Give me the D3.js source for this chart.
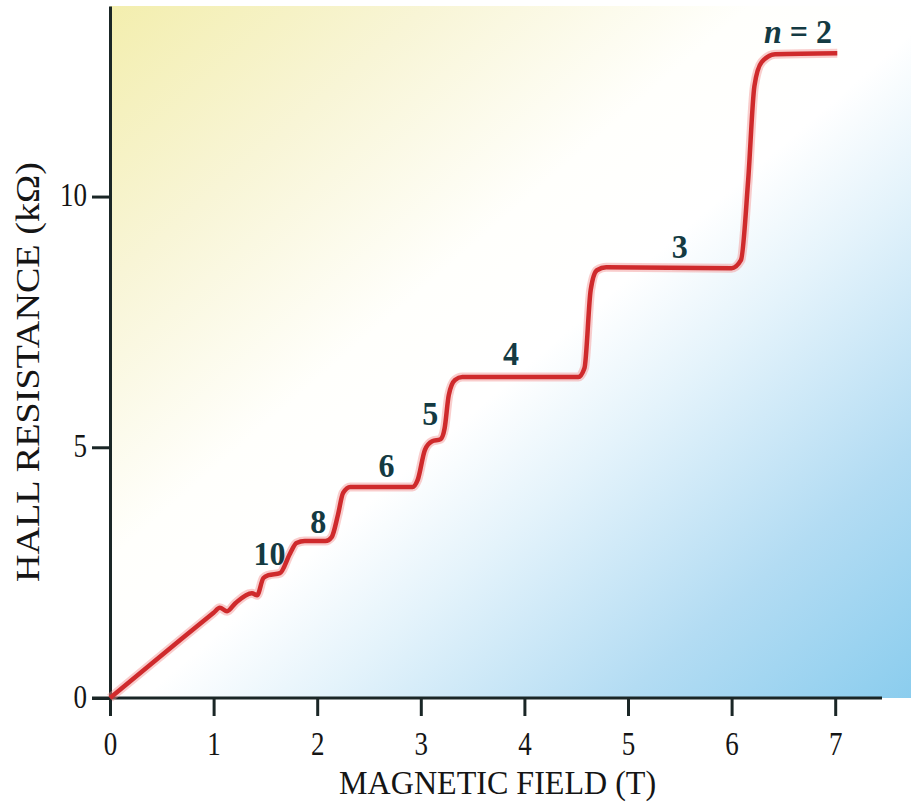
<!DOCTYPE html>
<html lang="en">
<head>
  <meta charset="UTF-8">
  <title>Quantum Hall Effect</title>
  <script src="https://d3js.org/d3.v7.min.js"></script>
  <style>
    body { margin: 0; background: #fff; }
    svg { display: block; }
    .axis text { font-family: "Liberation Serif", serif; font-size: 27px; fill: #151515; }
    .axis path, .axis line { stroke: #1a2626; stroke-width: 3; }
    .title { font-family: "Liberation Serif", serif; font-size: 27px; fill: #151515; }
    .step { font-family: "Liberation Serif", serif; font-weight: bold; font-size: 32px; fill: #143a42; }
  </style>
</head>
<body>
  <svg width="911" height="806"></svg>

  <script>
    // Hall resistance curve
    const fieldT = [0, 0.68, 1.00, 1.06, 1.13, 1.21, 1.37, 1.42, 1.48, 1.53, 1.64, 1.74, 1.80, 1.88,
      2.08, 2.14, 2.20, 2.25, 2.32, 2.92, 2.97, 3.04, 3.11, 3.19, 3.23, 3.27, 3.33, 3.40,
      4.52, 4.58, 4.64, 4.70, 4.79, 6.00, 6.09, 6.16, 6.22, 6.29, 6.42, 7.02];
    const hallKOhm = [0, 1.16, 1.70, 1.80, 1.73, 1.89, 2.09, 2.05, 2.39, 2.45, 2.49, 2.89, 3.09, 3.13,
      3.13, 3.21, 3.65, 4.09, 4.21, 4.21, 4.35, 4.95, 5.12, 5.16, 5.38, 6.04, 6.34, 6.40,
      6.40, 6.58, 8.14, 8.53, 8.59, 8.57, 8.73, 10.33, 12.20, 12.68, 12.84, 12.86];

    const xTicks = [0, 1, 2, 3, 4, 5, 6, 7];
    const yTicks = [0, 5, 10];

    // plateau labels (filling factor n)
    const stepText = ["2", "3", "4", "5", "6", "8", "10"];
    const stepField = [6.64, 5.50, 3.87, 3.09, 2.67, 2.01, 1.54];
    const stepHall = [13.06, 8.77, 6.64, 5.44, 4.41, 3.29, 2.65];

    const svg = d3.select("svg");
    const stretch = 1.25; // reference type is tall, stretch text vertically

    const x = d3.scaleLinear().domain([0, 7]).range([110, 835.2]);
    const y = d3.scaleLinear().domain([0, 13.8]).range([698, 6]);

    // background wash: yellow -> white -> blue
    const defs = svg.append("defs");
    const grad = defs.append("linearGradient")
      .attr("id", "wash")
      .attr("x1", 0).attr("y1", 0).attr("x2", 1).attr("y2", 1);
    grad.append("stop").attr("offset", "0%").attr("stop-color", "#f3eeae");
    grad.append("stop").attr("offset", "20%").attr("stop-color", "#f8f5d6");
    grad.append("stop").attr("offset", "40%").attr("stop-color", "#fffffc");
    grad.append("stop").attr("offset", "52%").attr("stop-color", "#ffffff");
    grad.append("stop").attr("offset", "63%").attr("stop-color", "#e4f3fb");
    grad.append("stop").attr("offset", "82%").attr("stop-color", "#b3dcf3");
    grad.append("stop").attr("offset", "100%").attr("stop-color", "#8bcdee");

    svg.append("rect")
      .attr("x", x(0)).attr("y", y(13.8))
      .attr("width", 911 - x(0)).attr("height", y(0) - y(13.8))
      .attr("fill", "url(#wash)");

    // axes
    const xAxis = svg.append("g")
      .attr("class", "axis")
      .attr("transform", `translate(0,${y(0)})`)
      .call(d3.axisBottom(x).tickValues(xTicks).tickFormat(d3.format("d"))
        .tickSize(18).tickSizeOuter(0).tickPadding(10));
    xAxis.select(".domain").attr("d", `M92,0H882`);
    xAxis.selectAll("text")
      .attr("y", 0).attr("dy", null)
      .attr("transform", `translate(0,${57}) scale(1,${stretch})`);

    const yAxis = svg.append("g")
      .attr("class", "axis")
      .attr("transform", `translate(${x(0)},0)`)
      .call(d3.axisLeft(y).tickValues(yTicks).tickFormat(d3.format("d"))
        .tickSize(18).tickSizeOuter(0).tickPadding(5));
    yAxis.selectAll(".tick text")
      .attr("y", 0).attr("dy", null).attr("x", 0)
      .attr("transform", `translate(-23,${9}) scale(1,${stretch})`);

    // axis titles
    svg.append("text")
      .attr("class", "title")
      .attr("text-anchor", "middle")
      .attr("transform", `translate(${(x(0) + x(7)) / 2 + 25},${794}) scale(1,${stretch})`)
      .attr("textLength", 317)
      .attr("lengthAdjust", "spacingAndGlyphs")
      .text("MAGNETIC FIELD (T)");

    svg.append("text")
      .attr("class", "title")
      .attr("text-anchor", "middle")
      .attr("transform", `translate(${39},${372}) rotate(-90) scale(1,${stretch})`)
      .attr("textLength", 420)
      .attr("lengthAdjust", "spacingAndGlyphs")
      .text("HALL RESISTANCE (kΩ)");

    // curve
    const pts = fieldT.map((b, i) => [b, hallKOhm[i]]);
    const line = d3.line()
      .x(d => x(d[0]))
      .y(d => y(d[1]))
      .curve(d3.curveMonotoneX);

    svg.append("path")
      .datum(pts)
      .attr("fill", "none")
      .attr("stroke", "#f29090")
      .attr("stroke-opacity", 0.45)
      .attr("stroke-width", 9)
      .attr("stroke-linejoin", "round")
      .attr("d", line);

    svg.append("path")
      .datum(pts)
      .attr("fill", "none")
      .attr("stroke", "#cf2a2c")
      .attr("stroke-width", 4.5)
      .attr("stroke-linejoin", "round")
      .attr("stroke-linecap", "butt")
      .attr("d", line);

    // plateau labels
    stepText.forEach((t, i) => {
      const lbl = svg.append("text")
        .attr("class", "step")
        .attr("text-anchor", "middle")
        .attr("transform", `translate(${x(stepField[i])},${y(stepHall[i])}) scale(1,${stretch * 0.85})`);
      if (i === 0) {
        lbl.append("tspan").attr("font-style", "italic").text("n");
        lbl.append("tspan").text(" = " + t);
      } else {
        lbl.text(t);
      }
    });
  </script>
</body>
</html>
